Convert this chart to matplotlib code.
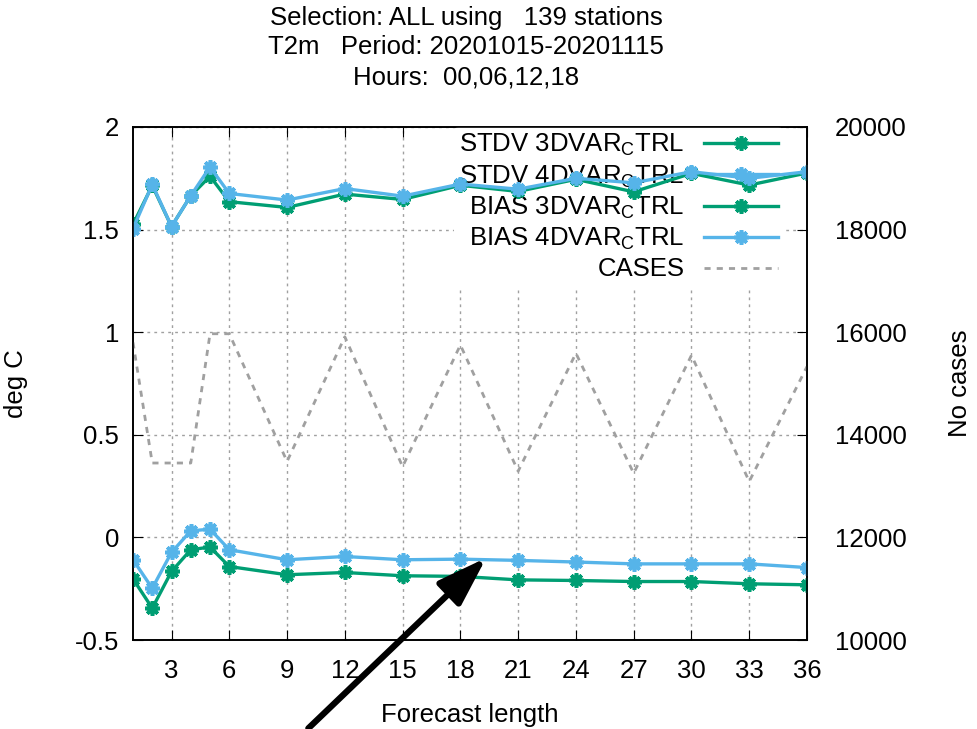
import matplotlib
matplotlib.use('Agg')
import matplotlib.pyplot as plt

plt.rcParams['font.family'] = ['Liberation Sans', 'DejaVu Sans']
plt.rcParams['mathtext.default'] = 'regular'

hours = [1, 2, 3, 4, 5, 6, 9, 12, 15, 18, 21, 24, 27, 30, 33, 36]

stdv_3dvar = [1.525, 1.715, 1.515, 1.665, 1.76, 1.636, 1.608, 1.673, 1.647, 1.716,
              1.686, 1.745, 1.684, 1.774, 1.717, 1.776]
stdv_4dvar = [1.505, 1.72, 1.515, 1.665, 1.805, 1.676, 1.644, 1.70, 1.663, 1.722,
              1.697, 1.75, 1.728, 1.782, 1.75, 1.782]
bias_3dvar = [-0.202, -0.345, -0.166, -0.060, -0.047, -0.142, -0.182, -0.171, -0.187, -0.190,
              -0.207, -0.210, -0.215, -0.215, -0.226, -0.231]
bias_4dvar = [-0.109, -0.248, -0.073, 0.032, 0.040, -0.060, -0.109, -0.093, -0.109, -0.106,
              -0.112, -0.120, -0.129, -0.129, -0.129, -0.147]
cases = [15800, 13450, 13450, 13450, 15970, 15970, 13480, 15910, 13380, 15750,
         13290, 15590, 13250, 15550, 13090, 15330]

green = '#009e73'
blue = '#56b4e9'
grey = '#a0a0a0'
fs = 18.5

fig = plt.figure(figsize=(9.77, 7.29), dpi=100)
ax = fig.add_axes([133 / 977, 1 - 640 / 729, 674 / 977, 513 / 729])
ax2 = ax.twinx()

star = (8, 2, 0)
kw = dict(lw=2.4, marker=star, markersize=10.5, markeredgewidth=2.6, zorder=4)
l1, = ax.plot(hours, stdv_3dvar, color=green, label='STDV 3DVAR$_C$TRL', **kw)
l2, = ax.plot(hours, stdv_4dvar, color=blue, label='STDV 4DVAR$_C$TRL', **kw)
l3, = ax.plot(hours, bias_3dvar, color=green, label='BIAS 3DVAR$_C$TRL', **kw)
l4, = ax.plot(hours, bias_4dvar, color=blue, label='BIAS 4DVAR$_C$TRL', **kw)
l5, = ax2.plot(hours, cases, color=grey, lw=2.0, ls=(0, (2.2, 2.2)), label='CASES')

ax.set_xlim(1, 36)
ax.set_ylim(-0.5, 2)
ax2.set_ylim(10000, 20000)
ax.set_xticks(range(3, 37, 3))
ax.set_yticks([-0.5, 0, 0.5, 1, 1.5, 2])
ax.set_yticklabels(['-0.5', '0', '0.5', '1', '1.5', '2'])
ax2.set_yticks(range(10000, 20001, 2000))

ax.set_axisbelow(True)
ax.grid(True, color=grey, ls=(0, (2, 3)), lw=1)
ax.tick_params(direction='in', length=7, labelsize=fs, top=True, pad=10)
ax.tick_params(axis='x', pad=14)
ax2.tick_params(direction='in', length=7, labelsize=fs, pad=20)
for a in (ax, ax2):
    for s in a.spines.values():
        s.set_linewidth(1.2)

ax.set_xlabel('Forecast length', fontsize=fs, labelpad=14)
ax.set_ylabel('deg C', fontsize=fs, labelpad=34)
ax2.set_ylabel('No cases', fontsize=fs, labelpad=30)

leg = ax.legend(handles=[l1, l2, l3, l4, l5], loc='upper right', markerfirst=False,
                fontsize=fs, frameon=True, framealpha=1, edgecolor='none',
                handlelength=2.9, labelspacing=0.2, borderaxespad=0.0,
                borderpad=0.2, handletextpad=0.75, bbox_to_anchor=(0.965, 1.0))
leg.set_zorder(3)

title = ['Selection: ALL using   139 stations',
         'T2m   Period: 20201015-20201115',
         'Hours:  00,06,12,18']
for i, t in enumerate(title):
    fig.text(466 / 977, 1 - (18 + 29.5 * i) / 729, t, ha='center', va='center', fontsize=fs)

ax.annotate('', xy=(19.45, -0.09), xytext=(10.0, -0.94),
            arrowprops=dict(arrowstyle='-|>,head_length=0.75,head_width=0.25', lw=4.5,
                            color='black', mutation_scale=40),
            annotation_clip=False, zorder=10)

fig.savefig('out.png', dpi=100)
